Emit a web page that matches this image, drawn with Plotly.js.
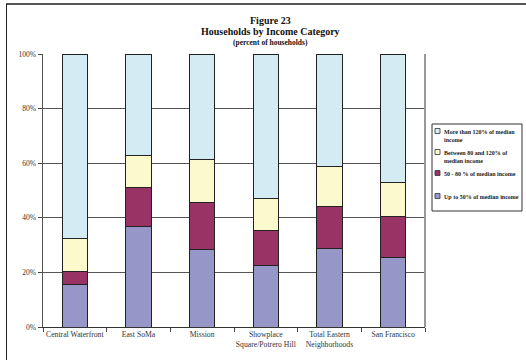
<!DOCTYPE html>
<html><head><meta charset="utf-8">
<script src="https://cdn.plot.ly/plotly-3.0.1.min.js"></script>
<style>
body{margin:0;overflow:hidden;background:#fff}
#frame{position:absolute;left:6px;top:3px;width:600px;height:400px;border-left:1.5px solid #222;border-top:2px solid #555;pointer-events:none}
</style>
</head><body>
<div id="chart" style="position:absolute;left:0;top:0;width:526px;height:360px"></div>
<div id="frame"></div>
<script>
const categories = ["Central Waterfront","East SoMa","Mission","Showplace<br>Square/Potrero Hill","Total Eastern<br>Neighborhoods","San Francisco"];
const upTo50 = [15.6,36.9,28.5,22.6,28.8,25.4];
const from50to80 = [4.7,14.1,17.2,12.7,15.5,15.1];
const from80to120 = [12.2,11.8,15.7,11.8,14.4,12.4];
const over120 = [67.5,37.2,38.6,52.9,41.3,47.1];
const seriesNames = ["Up to 50% of median income","50 - 80 % of median income","Between 80 and 120% of<br>median income","More than 120% of median<br>income"];
const yTicks = [0,20,40,60,80,100];
const yTickLabels = ["0%","20%","40%","60%","80%","100%"];
const titleLines = ["Figure 23","Households by Income Category","(percent of households)"];

const colors = ["#9696c9","#993366","#fcf9cc","#d3ecf3"];
const seriesData = [upTo50, from50to80, from80to120, over120];
const serif = "Liberation Serif, Times New Roman, serif";

const M = {l:43, r:101, t:54, b:33}, W = 526, H = 360;
const pw = W - M.l - M.r, ph = H - M.t - M.b;
const px = x => (x - M.l) / pw;
const py = y => (H - M.b - y) / ph;

const traces = seriesData.map((vals,i)=>({
  type:"bar", x:categories, y:vals, name:seriesNames[i],
  width:0.4, showlegend:false,
  marker:{color:colors[i], line:{color:"#222", width:1}},
  hoverinfo:"y+name"
}));

// custom legend (top-to-bottom: reversed series order)
const legendCenters = [131, 152, 173, 196];
const shapes = [
  {type:"line", xref:"paper", yref:"paper", x0:1, x1:1, y0:0, y1:1, line:{color:"#999", width:2}},
  {type:"rect", xref:"paper", yref:"paper", x0:px(432), x1:px(522), y0:py(211), y1:py(124), line:{color:"#333", width:1}, fillcolor:"#fff", layer:"above"}
];
const annotations = [
  {text:"<b>"+titleLines[0]+"</b>", xref:"paper", yref:"paper", x:px(270), y:py(20), showarrow:false, font:{size:10, color:"#111"}, yanchor:"middle"},
  {text:"<b>"+titleLines[1]+"</b>", xref:"paper", yref:"paper", x:px(270), y:py(31.5), showarrow:false, font:{size:10, color:"#111"}, yanchor:"middle"},
  {text:"<b>"+titleLines[2]+"</b>", xref:"paper", yref:"paper", x:px(270), y:py(43), showarrow:false, font:{size:7.5, color:"#111"}, yanchor:"middle"}
];
for (let k = 0; k < seriesNames.length; k++) {
  const i = seriesNames.length - 1 - k;
  const c = legendCenters[k];
  shapes.push({type:"rect", xref:"paper", yref:"paper", x0:px(435), x1:px(440), y0:py(c+2.5), y1:py(c-2.5),
    fillcolor:colors[i], line:{color:"#333", width:0.8}, layer:"above"});
  annotations.push({text:"<b>"+seriesNames[i]+"</b>", xref:"paper", yref:"paper", x:px(441.5), y:py(c-4.2),
    xanchor:"left", yanchor:"top", align:"left", showarrow:false, font:{size:6, color:"#222"}});
}

const layout = {
  width:W, height:H,
  margin:M,
  paper_bgcolor:"rgba(0,0,0,0)", plot_bgcolor:"#fff",
  barmode:"stack", showlegend:false,
  font:{family:serif, color:"#333", size:7.7},
  xaxis:{type:"category", ticks:"outside", tickson:"boundaries", ticklen:4, tickcolor:"#444", tickwidth:1, tickangle:0,
    showline:true, linecolor:"#333", linewidth:1, tickfont:{size:7.7, color:"#333"}, showgrid:false, fixedrange:true},
  yaxis:{range:[0,100], tickvals:yTicks, ticktext:yTickLabels, ticks:"outside", ticklen:4, tickcolor:"#444",
    showline:true, linecolor:"#555", linewidth:1.5, gridcolor:"#555", gridwidth:1, zeroline:false,
    tickfont:{size:7.5, color:"#333"}, fixedrange:true},
  shapes:shapes,
  annotations:annotations
};
Plotly.newPlot("chart", traces, layout, {displayModeBar:false, staticPlot:true});
</script>
</body></html>
